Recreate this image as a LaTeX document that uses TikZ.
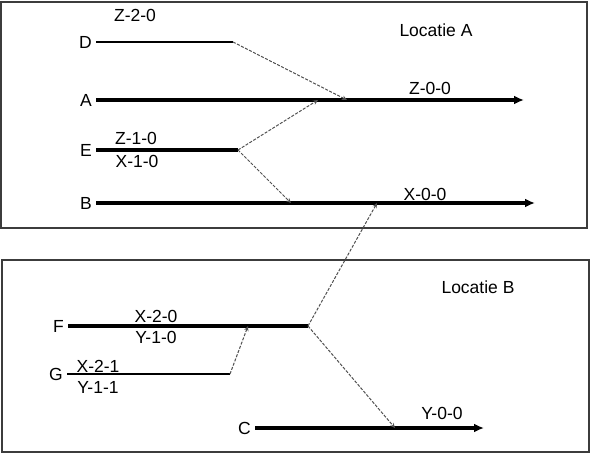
\documentclass[tikz,border=0pt]{standalone}
\usepackage{fontspec}
\setmainfont{Liberation Sans}
\usetikzlibrary{arrows.meta,positioning}
\definecolor{framegray}{RGB}{60,60,60}
\definecolor{dashgray}{RGB}{80,80,80}
\tikzset{
  lbl/.style={
    font=\fontsize{17.5}{19}\selectfont,
    inner sep=0pt
  },
  frame/.style={draw=framegray, line width=1.6pt},
  track/.style={line width=3.4pt, -{Latex[length=10pt,width=9pt]}},
  stub/.style={line width=3.2pt},
  thinstub/.style={line width=1.1pt},
  link/.style={
    draw=dashgray,
    line width=1pt,
    dash pattern=on 3pt off 1.5pt,
    -{Stealth[length=5pt,width=4.5pt]}
  }
}
\newcommand{\lineend}[3]{\node[lbl, left=4pt of #1] (#2) {#3};}

\begin{document}
\begin{tikzpicture}[x=1pt, y=-1pt]
  \useasboundingbox (0,0) rectangle (590,455);
  \fill[white] (0,0) rectangle (590,455);
  % the two locations
  \draw[frame] (1,2) rectangle (587,228);
  \draw[frame] (2,260) rectangle (589,452);
  % line ends
  \coordinate (d0) at (96,42);   \coordinate (d1) at (233,42);
  \coordinate (a0) at (96,100);  \coordinate (a1) at (524,100);
  \coordinate (e0) at (96,150);  \coordinate (e1) at (238,150);
  \coordinate (b0) at (96,203);  \coordinate (b1) at (535,203);
  \coordinate (f0) at (68,326);  \coordinate (f1) at (308,326);
  \coordinate (g0) at (67,374);  \coordinate (g1) at (230,374);
  \coordinate (c0) at (255,428); \coordinate (c1) at (484,428);
  % where the links meet
  \coordinate (aD) at (347,100);
  \coordinate (aE) at (318,100);
  \coordinate (bE) at (291,203);
  \coordinate (bF) at (377,203);
  \coordinate (fG) at (248,326);
  \coordinate (cF) at (395,428);
  \draw[thinstub] (d0) -- (d1);
  \draw[track] (a0) -- (a1);
  \draw[stub] (e0) -- (e1);
  \draw[track] (b0) -- (b1);
  \draw[stub] (f0) -- (f1);
  \draw[thinstub] (g0) -- (g1);
  \draw[track] (c0) -- (c1);
  \lineend{d0}{D}{D}
  \lineend{a0}{A}{A}
  \lineend{e0}{E}{E}
  \lineend{b0}{B}{B}
  \lineend{f0}{F}{F}
  \lineend{g0}{G}{G}
  \lineend{c0}{C}{C}
  % dashed links
  \draw[link] (d1) -- (aD);
  \draw[link] (e1) -- (aE);
  \draw[link] (e1) -- (bE);
  \draw[link] (f1) -- (bF);
  \draw[link] (g1) -- (fG);
  \draw[link] (f1) -- (cF);
  % codes and place names
  \foreach \p/\t in {{135,15}/Z-2-0, {430,88}/Z-0-0, {136,138}/Z-1-0,
      {137,161}/X-1-0, {425,194}/X-0-0, {156,316}/X-2-0, {156,337}/Y-1-0,
      {98,366}/X-2-1, {98,387}/Y-1-1, {442,413}/Y-0-0}
    \node[lbl] (t-\t) at (\p) {\t};
  \node[lbl] (locA) at (436,30) {Locatie A};
  \node[lbl] (locB) at (478,287) {Locatie B};
\end{tikzpicture}
\end{document}
